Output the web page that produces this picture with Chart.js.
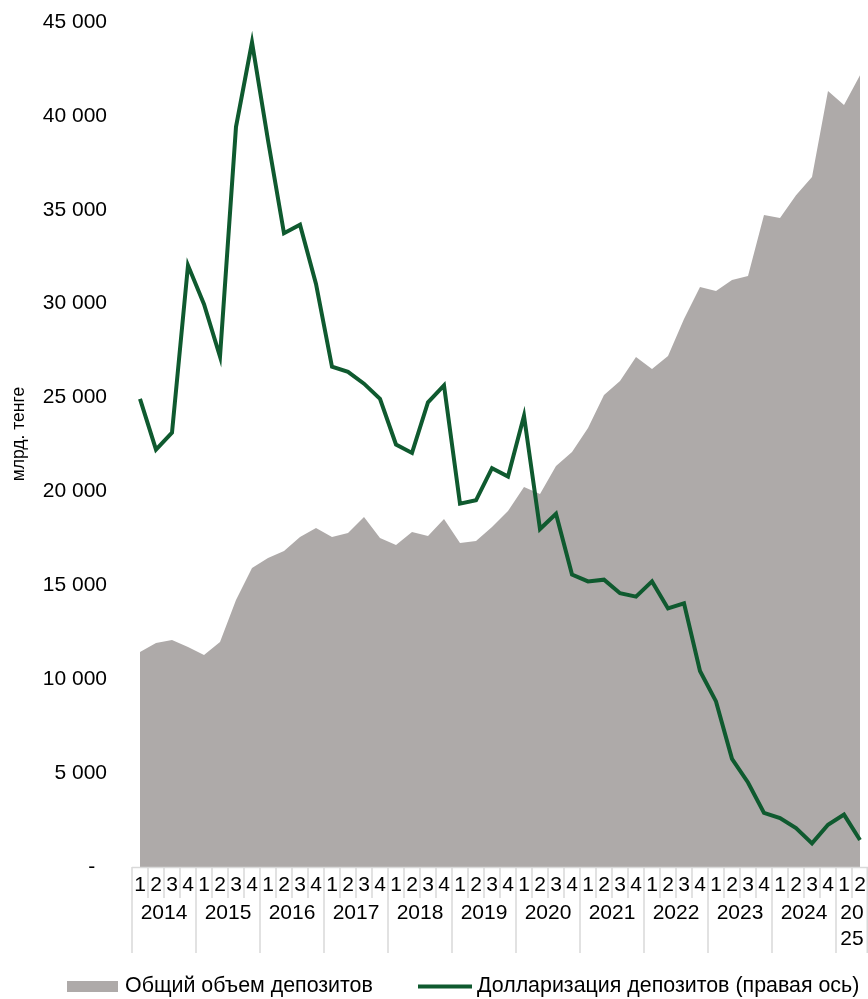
<!DOCTYPE html>
<html lang="ru">
<head>
<meta charset="utf-8">
<title>Депозиты и долларизация</title>
<script src="https://cdn.jsdelivr.net/npm/chart.js@4.4.1/dist/chart.umd.min.js"></script>
<style>
  html, body { margin: 0; padding: 0; background: #fff; }
  #wrap { width: 868px; height: 999px; position: relative; }
</style>
</head>
<body>
<div id="wrap"><canvas id="depChart"></canvas></div>
<script>
// квартальные метки и годы под осью X
const quarters = [
  '1','2','3','4', '1','2','3','4', '1','2','3','4', '1','2','3','4',
  '1','2','3','4', '1','2','3','4', '1','2','3','4', '1','2','3','4',
  '1','2','3','4', '1','2','3','4', '1','2','3','4', '1','2'
];
const years = ['2014','2015','2016','2017','2018','2019','2020','2021','2022','2023','2024','2025'];
const quartersPerYear = [4,4,4,4,4,4,4,4,4,4,4,2];

// общий объем депозитов, млрд. тенге (левая ось)
const deposits = [
  11450, 11930, 12090, 11720, 11290, 11980, 14220, 15920,
  16450, 16830, 17570, 18050, 17570, 17790, 18640, 17520,
  17150, 17840, 17630, 18530, 17250, 17360, 18100, 18960,
  20240, 19860, 21350, 22100, 23380, 25130, 25880, 27160,
  26520, 27210, 29180, 30890, 30670, 31260, 31470, 34720,
  34560, 35780, 36740, 41320, 40580, 42170
];

// долларизация депозитов, % (правая ось)
const dollarization = [
  47.7, 44.7, 45.7, 55.6, 53.3, 50.2, 63.8, 68.8,
  63.0, 57.5, 58.0, 54.5, 49.6, 49.3, 48.6, 47.7,
  45.0, 44.5, 47.5, 48.5, 41.5, 41.7, 43.6, 43.1,
  46.7, 40.0, 40.9, 37.3, 36.9, 37.0, 36.2, 36.0,
  36.9, 35.3, 35.6, 31.6, 29.8, 26.4, 25.0, 23.2,
  22.9, 22.3, 21.4, 22.5, 23.1, 21.6
];

const yTicks = [0, 5000, 10000, 15000, 20000, 25000, 30000, 35000, 40000, 45000];

const GRAY = '#aeaaa9';
const GREEN = '#0f5a2f';
const SEP = '#d9d9d9';
const FONT = '"Liberation Sans", Arial, sans-serif';

function fmt(v) {
  if (v === 0) return '-  ';
  return String(v).replace(/\B(?=(\d{3})+(?!\d))/g, ' ');
}

// подписи оси X в два уровня, заголовок левой оси и легенда
const extras = {
  id: 'extras',
  afterDraw(chart) {
    const ctx = chart.ctx;
    const x = chart.scales.x;
    const area = chart.chartArea;
    const step = x.getPixelForValue(1) - x.getPixelForValue(0);
    const base = area.bottom;

    ctx.save();
    ctx.strokeStyle = SEP;
    ctx.lineWidth = 1.5;
    ctx.beginPath();
    ctx.moveTo(area.left, base + 0.5);
    ctx.lineTo(area.right, base + 0.5);
    ctx.stroke();

    ctx.font = '21px ' + FONT;
    ctx.fillStyle = '#000';
    ctx.textAlign = 'center';
    ctx.textBaseline = 'middle';

    let idx = 0;
    years.forEach((yr, g) => {
      const n = quartersPerYear[g];
      const start = x.getPixelForValue(idx) - step / 2;
      for (let q = 0; q < n; q++) {
        const cx = x.getPixelForValue(idx + q);
        const left = cx - step / 2;
        ctx.beginPath();
        ctx.moveTo(left, base);
        ctx.lineTo(left, q === 0 ? base + 86 : base + 31);
        ctx.stroke();
        ctx.fillText(quarters[idx + q], cx, base + 18.5);
      }
      const w = n * step;
      const mid = start + w / 2;
      if (ctx.measureText(yr).width < w - 4) {
        ctx.fillText(yr, mid, base + 46.5);
      } else {
        ctx.fillText(yr.slice(0, 2), mid, base + 46.5);
        ctx.fillText(yr.slice(2), mid, base + 72);
      }
      idx += n;
    });
    ctx.beginPath();
    ctx.moveTo(area.right - 0.75, base);
    ctx.lineTo(area.right - 0.75, base + 86);
    ctx.stroke();

    // заголовок левой оси
    ctx.save();
    ctx.translate(19, 434);
    ctx.rotate(-Math.PI / 2);
    ctx.font = '17.5px ' + FONT;
    ctx.fillText('млрд. тенге', 0, 0);
    ctx.restore();

    // легенда
    const ly = 986.5;
    ctx.fillStyle = GRAY;
    ctx.fillRect(67, ly - 5.5, 51, 11);
    ctx.strokeStyle = GREEN;
    ctx.lineWidth = 4;
    ctx.beginPath();
    ctx.moveTo(418, ly);
    ctx.lineTo(472, ly);
    ctx.stroke();
    ctx.fillStyle = '#000';
    ctx.textAlign = 'left';
    ctx.font = '21.4px ' + FONT;
    ctx.fillText('Общий объем депозитов', 125, ly);
    ctx.fillText('Долларизация депозитов (правая ось)', 477, ly);
    ctx.restore();
  }
};

const ctxC = document.getElementById('depChart').getContext('2d');
const depChart = new Chart(ctxC, {
  type: 'line',
  data: {
    labels: quarters,
    datasets: [{
      label: 'Долларизация депозитов (правая ось)',
      data: dollarization,
      yAxisID: 'y1',
      borderColor: GREEN,
      borderWidth: 4,
      pointRadius: 0,
      tension: 0,
      fill: false
    }, {
      label: 'Общий объем депозитов',
      data: deposits,
      yAxisID: 'y',
      backgroundColor: GRAY,
      borderColor: 'rgba(0,0,0,0)',
      borderWidth: 0,
      pointRadius: 0,
      tension: 0,
      fill: 'origin'
    }]
  },
  options: {
    responsive: true,
    maintainAspectRatio: false,
    animation: false,
    layout: { padding: { top: 22, bottom: 132, left: 0, right: 0 } },
    plugins: {
      legend: { display: false },
      tooltip: { enabled: false }
    },
    scales: {
      x: {
        display: false,
        offset: true
      },
      y: {
        position: 'left',
        min: 0,
        max: 45000,
        afterBuildTicks(scale) {
          scale.ticks = yTicks.map(v => ({ value: v }));
        },
        afterFit(scale) {
          scale.width = 132;
          scale.paddingTop = 0;
          scale.paddingBottom = 0;
        },
        grid: { display: false, drawTicks: false },
        border: { display: false },
        ticks: {
          padding: 25,
          color: '#000',
          font: { family: FONT, size: 21 },
          callback: v => fmt(v)
        }
      },
      y1: {
        display: false,
        position: 'right',
        min: 20,
        max: 70
      }
    }
  },
  plugins: [extras]
});
</script>
</body>
</html>
